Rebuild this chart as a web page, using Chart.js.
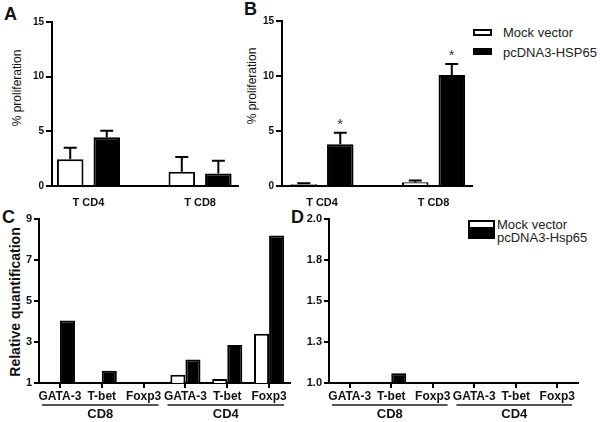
<!DOCTYPE html>
<html>
<head>
<meta charset="utf-8">
<script src="https://cdn.jsdelivr.net/npm/chart.js@4.4.0/dist/chart.umd.min.js"></script>
<style>
  body { margin: 0; width: 600px; height: 422px; position: relative; overflow: hidden; background: #fff; font-family: "Liberation Sans", Arial, sans-serif; color: #111; }
  canvas { position: absolute; }
  .letter { position: absolute; font-weight: bold; font-size: 18px; line-height: 18px; }
  .ytitle { position: absolute; white-space: nowrap; transform: translate(-50%, -50%) rotate(-90deg); }
  .leg { position: absolute; font-size: 13px; line-height: 13px; white-space: nowrap; color: #222; }
  .box { position: absolute; box-sizing: border-box; }
</style>
</head>
<body>
<div class="letter" style="left:4px;top:5px">A</div>
<div class="letter" style="left:244px;top:0px">B</div>
<div class="letter" style="left:2px;top:208px">C</div>
<div class="letter" style="left:291px;top:208px">D</div>

<div class="ytitle" style="left:17px;top:88px;font-size:12px">% proliferation</div>
<div class="ytitle" style="left:252px;top:86px;font-size:12px">% proliferation</div>
<div class="ytitle" style="left:15px;top:302px;font-size:14px;font-weight:bold">Relative quantification</div>

<div class="box" style="left:473px;top:29px;width:19px;height:7px;border:2px solid #000;background:#fff"></div>
<div class="box" style="left:473px;top:48px;width:19px;height:7px;background:#000"></div>
<div class="leg" style="left:503px;top:26px">Mock vector</div>
<div class="leg" style="left:503px;top:46px">pcDNA3-HSP65</div>

<div class="box" style="left:468px;top:220px;width:27px;height:9px;border:2px solid #000;background:#fff"></div>
<div class="box" style="left:468px;top:229px;width:27px;height:10px;background:#000"></div>
<div class="leg" style="left:497px;top:218px">Mock vector</div>
<div class="leg" style="left:497px;top:231px">pcDNA3-Hsp65</div>

<canvas id="chartA" width="250" height="210" style="left:0;top:0"></canvas>
<canvas id="chartB" width="230" height="210" style="left:250px;top:0"></canvas>
<canvas id="chartC" width="300" height="212" style="left:0;top:210px"></canvas>
<canvas id="chartD" width="304" height="212" style="left:296px;top:210px"></canvas>

<script>
// panels A and B: % proliferation
const groupsAB = ['T CD4', 'T CD8']
const mockA = [2.45, 1.3]
const mockAErr = [1.05, 1.35]
const hspA = [4.45, 1.15]
const hspAErr = [0.6, 1.15]
const mockB = [0.15, 0.35]
const mockBErr = [0.1, 0.15]
const hspB = [3.8, 10.1]
const hspBErr = [1.05, 1.0]
const hspBMarks = ['*', '*']
const yTicksAB = [0, 5, 10, 15]

// panels C and D: relative quantification
const genes = ['GATA-3', 'T-bet', 'Foxp3', 'GATA-3', 'T-bet', 'Foxp3']
const cellGroups = ['CD8', 'CD4']
const mockC = [1, 1, 1, 1.4, 1.2, 3.4]
const hspC = [4.05, 1.6, 1, 2.15, 2.85, 8.2]
const yTicksC = [1, 3, 5, 7, 9]
const mockD = [1, 1, 1, 1, 1, 1]
const hspD = [1, 1.06, 1, 1, 1, 1]
const yTicksD = [1.0, 1.25, 1.5, 1.75, 2.0]
const yTickLabelsD = ['1.0', '1.3', '1.5', '1.8', '2.0']

Chart.defaults.font.family = '"Liberation Sans", Arial, sans-serif'
Chart.defaults.color = '#111'

// error bars (upper only) + asterisks
const errorBars = {
  id: 'errorBars',
  afterDatasetsDraw(chart) {
    const ctx = chart.ctx
    const y = chart.scales.y
    chart.data.datasets.forEach((ds, di) => {
      if (!ds.errors) return
      const meta = chart.getDatasetMeta(di)
      meta.data.forEach((bar, i) => {
        const v = ds.data[i].y
        const top = y.getPixelForValue(v + ds.errors[i])
        ctx.save()
        ctx.strokeStyle = '#000'
        ctx.lineWidth = 2
        ctx.beginPath()
        ctx.moveTo(bar.x, bar.y)
        ctx.lineTo(bar.x, top)
        ctx.moveTo(bar.x - 6.5, top)
        ctx.lineTo(bar.x + 6.5, top)
        ctx.stroke()
        if (ds.marks && ds.marks[i]) {
          ctx.fillStyle = '#333'
          ctx.font = '15px "Liberation Sans", Arial, sans-serif'
          ctx.textAlign = 'center'
          ctx.textBaseline = 'middle'
          ctx.fillText(ds.marks[i], bar.x, top - 8)
        }
        ctx.restore()
      })
    })
  }
}

// CD8 / CD4 underlines below gene labels
const groupLabels = {
  id: 'groupLabels',
  afterDraw(chart) {
    const ctx = chart.ctx
    const x = chart.scales.x
    const half = (x.getPixelForValue(1) - x.getPixelForValue(0)) / 2
    const ly = chart.chartArea.bottom + 22
    cellGroups.forEach((g, k) => {
      const x0 = x.getPixelForValue(k * 3) - half + 3
      const x1 = x.getPixelForValue(k * 3 + 2) + half - 6
      ctx.save()
      ctx.strokeStyle = '#555'
      ctx.lineWidth = 2
      ctx.beginPath()
      ctx.moveTo(x0, ly)
      ctx.lineTo(x1, ly)
      ctx.stroke()
      ctx.fillStyle = '#111'
      ctx.font = 'bold 13px "Liberation Sans", Arial, sans-serif'
      ctx.textAlign = 'center'
      ctx.textBaseline = 'middle'
      ctx.fillText(g, (x0 + x1) / 2, ly + 9)
      ctx.restore()
    })
  }
}

function toPoints(arr) {
  return arr.map((v, i) => ({ x: i + 1, y: v }))
}

function prolifChart(id, mock, mockErr, hsp, hspErr, marks, yWidth, padTop, right, xMin, xMax) {
  const canvas = document.getElementById(id)
  return new Chart(canvas, {
    type: 'bar',
    data: {
      datasets: [{
        label: 'Mock vector',
        data: toPoints(mock),
        errors: mockErr,
        backgroundColor: '#fff',
        borderColor: '#000',
        borderWidth: 2
      }, {
        label: 'pcDNA3-HSP65',
        data: toPoints(hsp),
        errors: hspErr,
        marks: marks,
        backgroundColor: '#000',
        borderColor: '#000',
        borderWidth: 2
      }]
    },
    options: {
      responsive: false,
      animation: false,
      categoryPercentage: 0.655,
      barPercentage: 0.726,
      layout: { padding: { top: padTop, right: canvas.width - right, left: 0, bottom: 0 } },
      plugins: { legend: { display: false }, tooltip: { enabled: false } },
      scales: {
        x: {
          type: 'linear',
          offset: false,
          bounds: 'data',
          min: xMin,
          max: xMax,
          afterBuildTicks: s => { s.ticks = groupsAB.map((g, i) => ({ value: i + 1 })) },
          afterFit: s => { s.height = canvas.height - 186 },
          ticks: {
            callback: (v, i) => groupsAB[i],
            font: { size: 11, weight: 'bold' },
            padding: 2
          },
          grid: { display: false, offset: false },
          border: { display: true, color: '#000', width: 2 }
        },
        y: {
          min: 0,
          max: 15,
          afterBuildTicks: s => { s.ticks = yTicksAB.map(v => ({ value: v })) },
          afterFit: s => { s.width = yWidth },
          ticks: { font: { size: 10, weight: 'bold' }, padding: 2 },
          grid: { drawOnChartArea: false, drawTicks: true, tickLength: 6, color: '#000', lineWidth: 2 },
          border: { color: '#000', width: 2 }
        }
      }
    },
    plugins: [errorBars]
  })
}

prolifChart('chartA', mockA, mockAErr, hspA, hspAErr, null, 52, 22, 238, 0.673, 2.34)
prolifChart('chartB', mockB, mockBErr, hspB, hspBErr, hspBMarks, 32, 21, 222, 0.641, 2.345)

function quantChart(id, mock, hsp, yTicks, yLabels, yWidth, right) {
  const canvas = document.getElementById(id)
  return new Chart(canvas, {
    type: 'bar',
    data: {
      labels: genes,
      datasets: [{
        label: 'Mock vector',
        data: mock,
        backgroundColor: '#fff',
        borderColor: '#000',
        borderWidth: 2
      }, {
        label: 'pcDNA3-Hsp65',
        data: hsp,
        backgroundColor: '#000',
        borderColor: '#000',
        borderWidth: 2
      }]
    },
    options: {
      responsive: false,
      animation: false,
      categoryPercentage: 0.72,
      barPercentage: 1,
      layout: { padding: { top: 9, right: canvas.width - right, left: 0, bottom: 0 } },
      plugins: { legend: { display: false }, tooltip: { enabled: false } },
      scales: {
        x: {
          afterFit: s => { s.height = canvas.height - 173 },
          ticks: { font: { size: 12, weight: 'bold' }, padding: 1, autoSkip: false, maxRotation: 0 },
          grid: { drawOnChartArea: false, drawTicks: true, tickLength: 5, color: '#000', lineWidth: 2, offset: false },
          border: { color: '#000', width: 2 }
        },
        y: {
          min: yTicks[0],
          max: yTicks[yTicks.length - 1],
          afterBuildTicks: s => { s.ticks = yTicks.map(v => ({ value: v })) },
          afterFit: s => { s.width = yWidth },
          ticks: {
            font: { size: 11, weight: 'bold' },
            padding: 2,
            callback: (v, i) => yLabels[i]
          },
          grid: { drawOnChartArea: false, drawTicks: true, tickLength: 5, color: '#000', lineWidth: 2 },
          border: { color: '#000', width: 2 }
        }
      }
    },
    plugins: [groupLabels]
  })
}

quantChart('chartC', mockC, hspC, yTicksC, yTicksC.map(String), 39, 290)
quantChart('chartD', mockD, hspD, yTicksD, yTickLabelsD, 33, 282)
</script>
</body>
</html>
